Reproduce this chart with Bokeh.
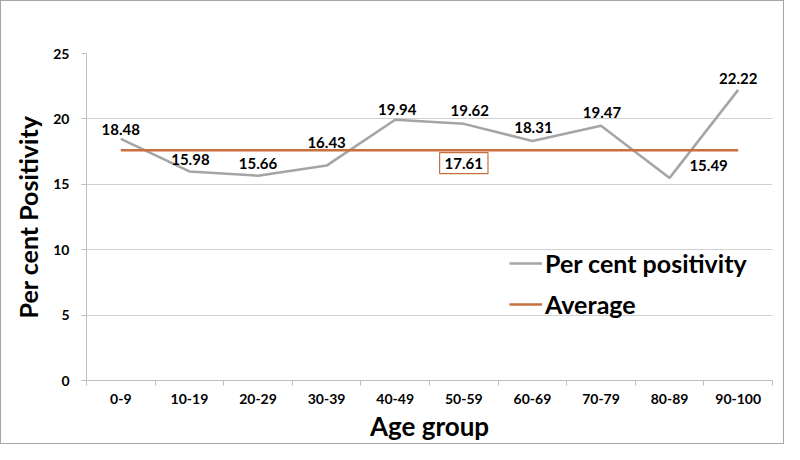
import numpy as np
from bokeh.plotting import figure
from bokeh.models import FixedTicker, Range1d, Label, Legend, LegendItem
from bokeh.core.properties import value
from bokeh.embed import file_html
from bokeh.resources import INLINE

# ---- data ----
categories = ["0-9", "10-19", "20-29", "30-39", "40-49", "50-59", "60-69", "70-79", "80-89", "90-100"]
positivity = [18.48, 15.98, 15.66, 16.43, 19.94, 19.62, 18.31, 19.47, 15.49, 22.22]
average = 17.61
y_ticks = [0, 5, 10, 15, 20, 25]

# label offsets in screen pixels (style)
label_dx = [0, 1, 0, 0, 2, 6, 1, 1, 39, 0]
label_dy = [-9, -12, -12, -23, -10, -13, -14, -13, -12, -11]

FONT = "Lato"
GRAY = "#A5A5A5"
ORANGE = "#C8703E"

xs = list(range(len(categories)))

p = figure(width=784, height=444, output_backend="svg", toolbar_location=None,
           x_range=Range1d(-0.5, len(categories) - 0.5), y_range=Range1d(0, 25),
           min_border_left=85, min_border_right=13, min_border_top=52, min_border_bottom=65)
p.outline_line_color = None
p.background_fill_color = "white"
p.border_fill_color = "white"
p.styles = {"border": "1px solid #A6A6A6"}

# axes
p.xaxis.ticker = FixedTicker(ticks=xs, minor_ticks=[i - 0.5 for i in range(len(categories) + 1)])
p.xaxis.major_label_overrides = {i: c for i, c in enumerate(categories)}
p.xaxis.major_tick_out = 0
p.xaxis.major_tick_in = 0
p.xaxis.minor_tick_out = 5
p.xaxis.minor_tick_in = 0
p.xaxis.minor_tick_line_color = "#BFBFBF"
p.yaxis.ticker = FixedTicker(ticks=y_ticks)
p.yaxis.major_tick_out = 5
p.yaxis.major_tick_in = 0
p.yaxis.minor_tick_line_color = None
for ax in (p.xaxis, p.yaxis):
    ax.axis_line_color = "#BFBFBF"
    ax.major_tick_line_color = "#BFBFBF"
    ax.major_label_text_font = FONT
    ax.major_label_text_font_style = "bold"
    ax.major_label_text_font_size = "14px"
    ax.major_label_text_color = "black"
    ax.axis_label_text_font = FONT
    ax.axis_label_text_font_style = "bold"
    ax.axis_label_text_color = "black"
p.xaxis.axis_label = "Age group"
p.yaxis.axis_label = "Per cent Positivity"
p.xaxis.axis_label_text_font_size = "26px"
p.yaxis.axis_label_text_font_size = "25px"
p.xaxis.major_label_standoff = 8
p.yaxis.major_label_standoff = 12
p.xaxis.axis_label_standoff = 3
p.yaxis.axis_label_standoff = 7

p.xgrid.grid_line_color = None
p.ygrid.ticker = FixedTicker(ticks=y_ticks[1:])
p.ygrid.grid_line_color = "#D0D0D0"

# series
r1 = p.line(xs, positivity, line_color=GRAY, line_width=2.5)
r2 = p.line(xs, [average] * len(xs), line_color=ORANGE, line_width=2.5)

p.text(xs, positivity, text=[f"{v:.2f}" for v in positivity],
       x_offset=label_dx, y_offset=label_dy,
       text_font=value(FONT), text_font_style="bold", text_font_size="15px",
       text_align="center", text_baseline="middle", text_color="black")

avg_label = Label(x=xs[5], y=average, text=f"{average:.2f}", x_offset=0, y_offset=-13,
                  text_font=FONT, text_font_style="bold", text_font_size="15px",
                  text_align="center", text_baseline="middle", text_color="black",
                  border_line_color=ORANGE, border_line_width=1.2,
                  background_fill_color="white", padding=5)
p.add_layout(avg_label)

legend = Legend(items=[LegendItem(label="Per cent positivity", renderers=[r1]),
                       LegendItem(label="Average", renderers=[r2])],
                location=(423, 61), orientation="vertical",
                label_text_font=FONT, label_text_font_style="bold", label_text_font_size="25px",
                label_text_color="black",
                glyph_width=33, label_standoff=3, spacing=11, padding=0, margin=0,
                background_fill_alpha=0, border_line_color=None)
p.add_layout(legend)

open("out.html", "w").write(file_html(p, INLINE))
